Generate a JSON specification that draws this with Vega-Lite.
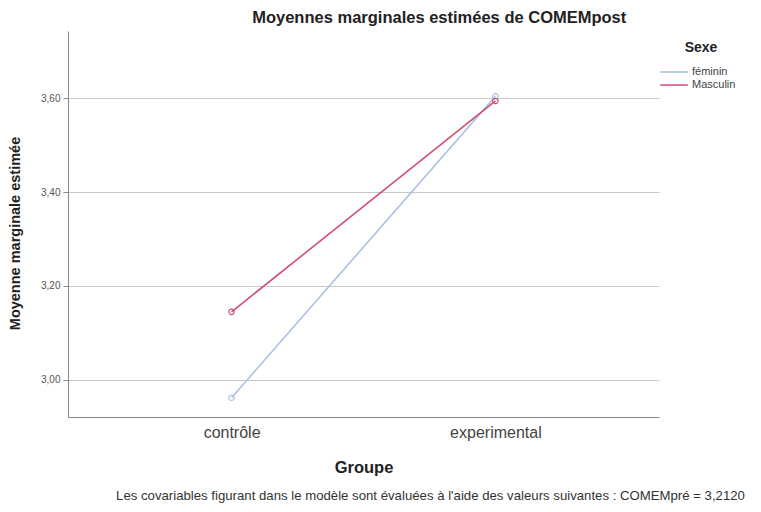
{
  "$schema": "https://vega.github.io/schema/vega-lite/v6.json",
  "background": "white",
  "padding": {"left": 7, "top": 9, "right": 5, "bottom": 5},
  "title": {"text": "Moyennes marginales estimées de COMEMpost", "font": "Liberation Sans", "fontSize": 16.5, "fontWeight": "bold", "color": "#222222", "anchor": "middle", "dx": 63, "offset": 5},
  "config": {"view": {"stroke": null}, "font": "Liberation Sans"},
  "vconcat": [
    {
      "width": 591,
      "height": 386,
      "title": {"text": "Les covariables figurant dans le modèle sont évaluées à l'aide des valeurs suivantes : COMEMpré = 3,2120", "orient": "bottom", "font": "Liberation Sans", "fontSize": 13.2, "fontWeight": "normal", "color": "#333333", "anchor": "middle", "dx": 67, "offset": 14},
      "data": {"values": [
        {"Groupe": "contrôle", "Sexe": "féminin", "Moyenne": 2.962},
        {"Groupe": "experimental", "Sexe": "féminin", "Moyenne": 3.604},
        {"Groupe": "contrôle", "Sexe": "Masculin", "Moyenne": 3.145},
        {"Groupe": "experimental", "Sexe": "Masculin", "Moyenne": 3.594}
      ]},
      "encoding": {
        "x": {"field": "Groupe", "type": "nominal", "sort": ["contrôle", "experimental"],
          "scale": {"type": "point", "padding": 0.62},
          "axis": {"title": "Groupe", "titleFontSize": 16.5, "titleFontWeight": "bold", "titleColor": "#222222", "titlePadding": 19,
            "labelAngle": 0, "labelFontSize": 16, "labelColor": "#444444", "labelPadding": 7, "ticks": false, "domainColor": "#888888", "grid": false}},
        "y": {"field": "Moyenne", "type": "quantitative",
          "scale": {"domain": [2.921, 3.743], "nice": false, "zero": false},
          "axis": {"title": "Moyenne marginale estimée", "titleFontSize": 14.5, "titleFontWeight": "bold", "titleColor": "#222222", "titlePadding": 18, "titleY": 202,
            "values": [3.0, 3.2, 3.4, 3.6], "format": ".2f", "labelExpr": "replace(datum.label, '.', ',')",
            "labelFontSize": 10, "labelColor": "#555555", "tickColor": "#888888", "tickSize": 5, "labelPadding": 3, "domainColor": "#888888",
            "grid": true, "gridColor": "#c8c8c8"}},
        "color": {"field": "Sexe", "type": "nominal",
          "scale": {"domain": ["féminin", "Masculin"], "range": ["#a9bfe6", "#cf4f72"]},
          "legend": {"title": "Sexe", "titleFontSize": 14, "titleFontWeight": "bold", "titleColor": "#222222", "titleAnchor": "middle", "titlePadding": 9, "labelFontSize": 11, "labelColor": "#444444",
            "symbolType": "M-2,0H2", "symbolStrokeWidth": 1.5, "symbolSize": 190, "orient": "none", "legendX": 598, "legendY": 10, "rowPadding": 0, "labelOffset": 10}}
      },
      "layer": [
        {"mark": {"type": "line", "strokeWidth": 1.6}},
        {"mark": {"type": "point", "shape": "circle", "filled": false, "size": 30, "strokeWidth": 1.2, "opacity": 1}}
      ]
    }
  ]
}
